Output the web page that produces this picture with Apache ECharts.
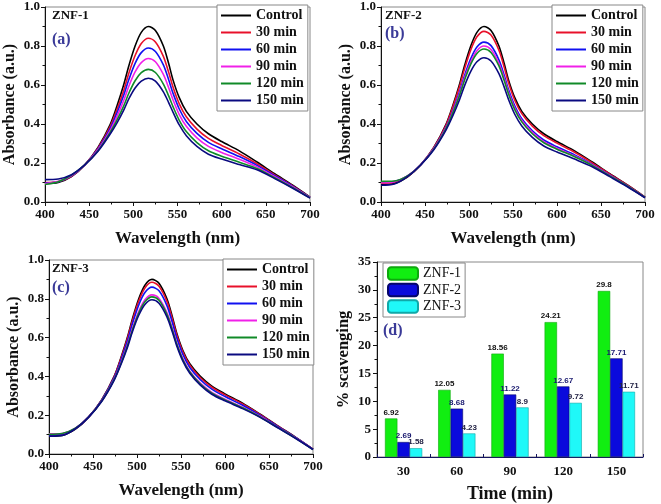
<!DOCTYPE html>
<html><head><meta charset="utf-8">
<script src="https://cdn.jsdelivr.net/npm/echarts@6/dist/echarts.min.js"></script>
<style>html,body{margin:0;padding:0;background:#fff}#c{width:661px;height:504px}</style>
</head><body><div id="c"></div>
<script>
var wavelengths = [400,415,430,445,460,474,482,489,495,502,509,517,525,534,540,545,552,560,572,585,600,620,640,660,680,700];
var seriesNames = ['Control','30 min','60 min','90 min','120 min','150 min'];
// Panel (a) ZNF-1
var a_control = [0.095,0.10,0.13,0.19,0.28,0.40,0.50,0.60,0.70,0.80,0.87,0.90,0.88,0.80,0.71,0.625,0.535,0.465,0.40,0.35,0.31,0.262,0.205,0.145,0.087,0.025];
var a_30  = [0.10,0.104,0.132,0.19,0.276,0.389,0.48,0.571,0.662,0.751,0.813,0.84,0.821,0.747,0.665,0.588,0.503,0.437,0.374,0.326,0.29,0.246,0.196,0.139,0.084,0.024];
var a_60  = [0.097,0.104,0.134,0.19,0.272,0.379,0.463,0.546,0.629,0.711,0.766,0.79,0.772,0.703,0.627,0.557,0.477,0.413,0.352,0.306,0.273,0.233,0.188,0.135,0.081,0.023];
var a_90  = [0.094,0.106,0.136,0.19,0.268,0.369,0.444,0.519,0.595,0.667,0.715,0.736,0.719,0.654,0.586,0.523,0.448,0.388,0.329,0.285,0.254,0.219,0.18,0.13,0.078,0.022];
var a_120 = [0.09,0.104,0.138,0.19,0.263,0.359,0.425,0.492,0.559,0.622,0.663,0.68,0.664,0.605,0.544,0.488,0.419,0.361,0.305,0.263,0.235,0.204,0.172,0.124,0.074,0.021];
var a_150 = [0.115,0.118,0.14,0.19,0.26,0.35,0.41,0.47,0.53,0.585,0.62,0.635,0.62,0.565,0.51,0.46,0.395,0.34,0.285,0.245,0.22,0.192,0.165,0.12,0.072,0.02];
// Panel (b) ZNF-2
var b_control = [0.09,0.095,0.128,0.19,0.28,0.40,0.50,0.60,0.70,0.80,0.87,0.90,0.88,0.80,0.71,0.625,0.535,0.465,0.40,0.35,0.31,0.262,0.205,0.145,0.087,0.025];
var b_30  = [0.097,0.102,0.131,0.19,0.278,0.395,0.492,0.588,0.684,0.78,0.847,0.875,0.856,0.778,0.691,0.61,0.522,0.453,0.389,0.34,0.302,0.255,0.201,0.143,0.086,0.025];
var b_60  = [0.101,0.105,0.133,0.19,0.274,0.385,0.473,0.561,0.649,0.735,0.795,0.82,0.802,0.729,0.65,0.575,0.493,0.427,0.365,0.318,0.283,0.241,0.193,0.137,0.083,0.024];
var b_90  = [0.099,0.104,0.134,0.19,0.273,0.381,0.466,0.551,0.636,0.719,0.776,0.80,0.782,0.711,0.635,0.563,0.482,0.418,0.357,0.31,0.276,0.236,0.19,0.136,0.081,0.023];
var b_120 = [0.106,0.108,0.134,0.19,0.271,0.378,0.461,0.544,0.626,0.707,0.762,0.785,0.767,0.698,0.623,0.553,0.474,0.411,0.35,0.304,0.271,0.232,0.188,0.134,0.081,0.023];
var b_150 = [0.086,0.092,0.13,0.19,0.268,0.37,0.446,0.522,0.597,0.67,0.719,0.74,0.723,0.658,0.589,0.525,0.45,0.39,0.331,0.287,0.256,0.22,0.181,0.13,0.078,0.022];
// Panel (c) ZNF-3
var c_control = [0.092,0.096,0.128,0.19,0.28,0.40,0.50,0.60,0.70,0.80,0.87,0.90,0.88,0.80,0.71,0.625,0.535,0.465,0.40,0.35,0.31,0.262,0.205,0.145,0.087,0.025];
var c_30  = [0.096,0.101,0.131,0.19,0.279,0.397,0.495,0.593,0.69,0.788,0.856,0.885,0.865,0.787,0.699,0.616,0.527,0.458,0.393,0.344,0.305,0.258,0.203,0.144,0.086,0.025];
var c_60  = [0.098,0.103,0.132,0.19,0.277,0.392,0.486,0.58,0.674,0.768,0.832,0.86,0.841,0.765,0.68,0.60,0.514,0.446,0.383,0.334,0.296,0.251,0.199,0.141,0.085,0.024];
var c_90  = [0.104,0.106,0.133,0.19,0.274,0.385,0.473,0.561,0.649,0.735,0.795,0.82,0.802,0.729,0.65,0.575,0.493,0.427,0.365,0.318,0.283,0.241,0.193,0.137,0.083,0.024];
var c_120 = [0.102,0.106,0.133,0.19,0.273,0.383,0.469,0.556,0.642,0.727,0.785,0.81,0.792,0.72,0.642,0.569,0.487,0.423,0.361,0.314,0.279,0.238,0.191,0.136,0.082,0.023];
var c_150 = [0.092,0.096,0.13,0.19,0.272,0.38,0.464,0.548,0.633,0.715,0.771,0.795,0.777,0.707,0.631,0.56,0.48,0.416,0.355,0.308,0.274,0.234,0.189,0.135,0.081,0.023];
// Panel (d) scavenging
var times = ['30','60','90','120','150'];
var barNames = ['ZNF-1','ZNF-2','ZNF-3'];
var znf1 = [6.92,12.05,18.56,24.21,29.8];
var znf2 = [2.69,8.68,11.22,12.67,17.71];
var znf3 = [1.58,4.23,8.9,9.72,11.71];

var lineColors = ['#000000','#e8102a','#1010f0','#f020e8','#108a28','#0a0a80'];
var barColors = ['#11ee11','#0a0adc','#1ff8f8'];
var barBorders = ['#0da80d','#06066a','#10a8a8'];
var serif = '"Liberation Serif","Times New Roman",serif';

var chart = echarts.init(document.getElementById('c'), null, {renderer:'canvas'});

var grids = [
  {left:45, top:7, width:265, height:195},
  {left:381, top:7, width:264, height:195},
  {left:49, top:260, width:264, height:194},
  {left:377, top:262, width:266, height:195}
];
grids.forEach(function(g){ g.show = true; g.borderColor = '#888'; g.borderWidth = 1; g.backgroundColor = 'transparent'; });

function valX(gi){
  return {type:'value', gridIndex:gi, min:400, max:700, interval:50,
    name:'Wavelength (nm)', nameLocation:'middle', nameGap:28,
    nameTextStyle:{fontFamily:serif, fontWeight:'bold', fontSize:17, color:'#111'},
    axisLine:{show:true, onZero:false, lineStyle:{color:'#111', width:1}},
    axisTick:{show:true, inside:false, length:4, lineStyle:{color:'#111'}},
    minorTick:{show:true, splitNumber:2, length:2.5, lineStyle:{color:'#111'}},
    splitLine:{show:false},
    axisLabel:{fontFamily:serif, fontWeight:'bold', fontSize:13, color:'#111', margin:6}
  };
}
function valY(gi){
  return {type:'value', gridIndex:gi, min:0, max:1, interval:0.2,
    name:'Absorbance (a.u.)', nameLocation:'middle', nameGap:27, nameRotate:90,
    nameTextStyle:{fontFamily:serif, fontWeight:'bold', fontSize:16, color:'#111'},
    axisLine:{show:true, onZero:false, lineStyle:{color:'#111', width:1}},
    axisTick:{show:true, inside:false, length:4, lineStyle:{color:'#111'}},
    minorTick:{show:true, splitNumber:2, length:2.5, lineStyle:{color:'#111'}},
    splitLine:{show:false},
    axisLabel:{fontFamily:serif, fontWeight:'bold', fontSize:13, color:'#111', margin:5,
      formatter:function(v){return v.toFixed(1);}}
  };
}

var xAxes = [valX(0), valX(1), valX(2), {
  type:'category', gridIndex:3, data:times,
  name:'Time (min)', nameLocation:'middle', nameGap:28,
  nameTextStyle:{fontFamily:serif, fontWeight:'bold', fontSize:18, color:'#111'},
  axisLine:{show:true, lineStyle:{color:'#141460', width:1}},
  axisTick:{show:true, inside:true, length:3, lineStyle:{color:'#141460'}},
  axisLabel:{fontFamily:serif, fontWeight:'bold', fontSize:13, color:'#111', margin:8}
}];
var yAxes = [valY(0), valY(1), valY(2), {
  type:'value', gridIndex:3, min:0, max:35, interval:5,
  name:'% scavenging', nameLocation:'middle', nameGap:25, nameRotate:90,
  nameTextStyle:{fontFamily:serif, fontWeight:'bold', fontSize:16.5, color:'#111'},
  axisLine:{show:true, lineStyle:{color:'#111', width:1}},
  axisTick:{show:true, inside:false, length:4, lineStyle:{color:'#111'}},
  minorTick:{show:true, splitNumber:2, length:2.5, lineStyle:{color:'#111'}},
  splitLine:{show:false},
  axisLabel:{fontFamily:serif, fontWeight:'bold', fontSize:13, color:'#111', margin:6}
}];

var panels = [
  [a_control,a_30,a_60,a_90,a_120,a_150],
  [b_control,b_30,b_60,b_90,b_120,b_150],
  [c_control,c_30,c_60,c_90,c_120,c_150]
];
var series = [];
panels.forEach(function(arrs, gi){
  arrs.forEach(function(arr, si){
    series.push({
      type:'line', name:seriesNames[si], xAxisIndex:gi, yAxisIndex:gi,
      data: wavelengths.map(function(w,k){return [w, arr[k]];}),
      smooth:0.3, symbol:'none', showSymbol:false,
      lineStyle:{color:lineColors[si], width:1.6}, itemStyle:{color:lineColors[si]},
      silent:true, animation:false
    });
  });
});
var barData = [znf1, znf2, znf3];
var labelColors = ['#111111','#1a1a70','#222244'];
barData.forEach(function(arr, i){
  series.push({
    type:'bar', name:barNames[i], xAxisIndex:3, yAxisIndex:3, data:arr,
    barGap:'0%', barCategoryGap:'30%',
    itemStyle:{color:barColors[i], borderColor:barBorders[i], borderWidth:0.6},
    label:{show:true, position:'top', distance:2, fontFamily:'"Liberation Sans",Arial,sans-serif',
      fontWeight:'bold', fontSize:8, color:labelColors[i]},
    animation:false
  });
});

function lineLegend(left, top){
  return {data:seriesNames, orient:'vertical', left:left, top:top,
    icon:'rect', itemWidth:30, itemHeight:2, itemGap:2, padding:[3,4,3,4],
    backgroundColor:'#fff', borderColor:'#888', borderWidth:1, borderRadius:0,
    textStyle:{fontFamily:serif, fontWeight:'bold', fontSize:14, color:'#111', lineHeight:15},
    selectedMode:false};
}

var option = {
  animation:false,
  backgroundColor:'#fff',
  grid:grids, xAxis:xAxes, yAxis:yAxes, series:series,
  legend:[
    lineLegend(217, 5),
    lineLegend(552, 5),
    lineLegend(223, 259),
    {data:barNames, orient:'vertical', left:383, top:263,
      itemWidth:30, itemHeight:12.5, itemGap:1.5, padding:[3,4,3,4],
      backgroundColor:'#fff', borderColor:'#888', borderWidth:1,
      textStyle:{fontFamily:serif, fontSize:14, color:'#111', lineHeight:15}, selectedMode:false}
  ],
  graphic:[
    {type:'text', left:52, top:9, style:{text:'ZNF-1', font:'bold 13px '+serif, fill:'#111'}},
    {type:'text', left:52, top:32, style:{text:'(a)', font:'bold 16px '+serif, fill:'#3a3a98'}},
    {type:'text', left:385, top:9, style:{text:'ZNF-2', font:'bold 13px '+serif, fill:'#111'}},
    {type:'text', left:385, top:26, style:{text:'(b)', font:'bold 16px '+serif, fill:'#3a3a98'}},
    {type:'text', left:52, top:262, style:{text:'ZNF-3', font:'bold 13px '+serif, fill:'#111'}},
    {type:'text', left:52, top:280, style:{text:'(c)', font:'bold 16px '+serif, fill:'#3a3a98'}},
    {type:'text', left:383, top:323, style:{text:'(d)', font:'bold 16px '+serif, fill:'#3a3a98'}}
  ]
};
chart.setOption(option);
</script></body></html>
